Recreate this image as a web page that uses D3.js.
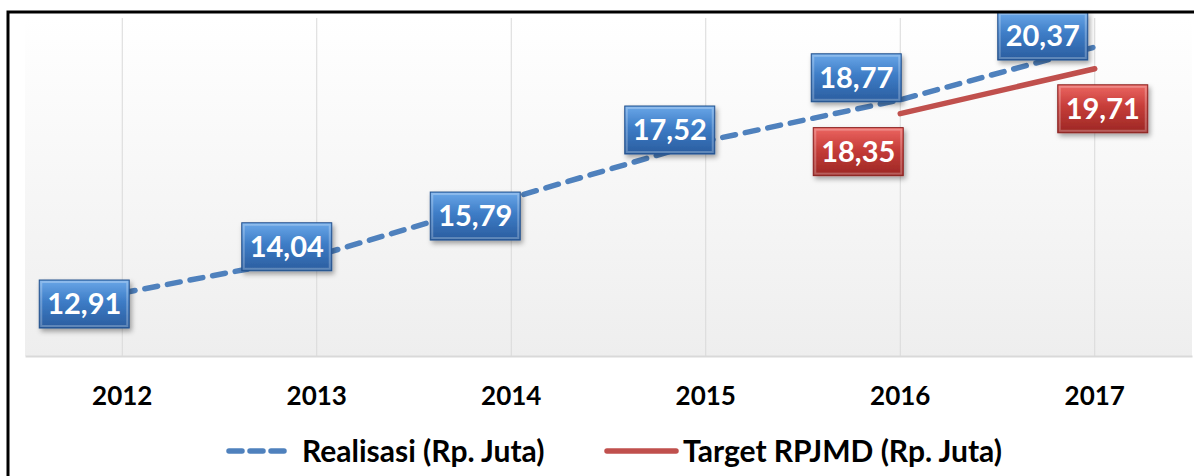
<!DOCTYPE html>
<html>
<head>
<meta charset="utf-8">
<script src="https://cdn.jsdelivr.net/npm/d3@7"></script>
<style>
  body { margin: 0; background: #fff; }
  svg { display: block; font-family: Lato, "Open Sans", sans-serif; }
</style>
</head>
<body>
<svg id="chart" width="1194" height="476"></svg>
<script>
// chart data
const years = ['2012', '2013', '2014', '2015', '2016', '2017'];
const realisasi = [12.91, 14.04, 15.79, 17.52, 18.77, 20.37];
const targetYears = ['2016', '2017'];
const target = [18.35, 19.71];
const seriesNames = ['Realisasi (Rp. Juta)', 'Target RPJMD (Rp. Juta)'];

// label box offsets from their point (box centre), as placed in the original
const realLabelOffsets = [[-38, 11], [-30, -9], [-36, 18], [-36, -11], [-44, -22], [-52, -11]];
const targetLabelOffsets = [[-42, 38], [8, 40]];

const svg = d3.select('#chart');
const margin = { top: 18, right: 2, bottom: 120, left: 25 };
const width = 1194 - margin.left - margin.right;
const height = 476 - margin.top - margin.bottom;

const fmt = v => v.toFixed(2).replace('.', ',');

const defs = svg.append('defs');

const bg = defs.append('linearGradient').attr('id', 'bg').attr('x1', 0).attr('y1', 0).attr('x2', 0).attr('y2', 1);
bg.append('stop').attr('offset', '0%').attr('stop-color', '#ffffff');
bg.append('stop').attr('offset', '100%').attr('stop-color', '#eeeeee');

function boxGradient(id, c0, c1, c2) {
  const g = defs.append('linearGradient').attr('id', id).attr('x1', 0).attr('y1', 0).attr('x2', 0).attr('y2', 1);
  g.append('stop').attr('offset', '0%').attr('stop-color', c0);
  g.append('stop').attr('offset', '45%').attr('stop-color', c1);
  g.append('stop').attr('offset', '100%').attr('stop-color', c2);
}
boxGradient('blueBox', '#6aa7e8', '#3d7cc6', '#2a5d9f');
boxGradient('redBox', '#ec6662', '#c63d39', '#9c2724');

const shadow = defs.append('filter').attr('id', 'shadow').attr('x', '-20%').attr('y', '-20%').attr('width', '150%').attr('height', '160%');
shadow.append('feDropShadow').attr('dx', 2).attr('dy', 3).attr('stdDeviation', 2.5)
  .attr('flood-color', '#000').attr('flood-opacity', 0.35);

const chart = svg.append('g').attr('transform', `translate(${margin.left},${margin.top})`);

const x = d3.scaleBand().domain(years).range([0, width]);
const y = d3.scaleLinear().domain([11, 21.25]).range([height, 0]);
const cx = d => x(d) + x.bandwidth() / 2;

// plot area background
chart.append('rect')
  .attr('width', width)
  .attr('height', height)
  .attr('fill', 'url(#bg)');

// vertical gridlines
chart.selectAll('.grid')
  .data(years)
  .join('line')
    .attr('class', 'grid')
    .attr('x1', cx).attr('x2', cx)
    .attr('y1', 0).attr('y2', height)
    .attr('stroke', '#d9d9d9')
    .attr('stroke-width', 1);

// x axis
const xAxisG = chart.append('g')
  .attr('transform', `translate(0,${height})`)
  .call(d3.axisBottom(x).tickSize(0).tickPadding(31));
xAxisG.select('.domain').attr('stroke', '#d9d9d9').attr('stroke-width', 2);
xAxisG.selectAll('text')
  .attr('fill', '#000')
  .style('font-size', '26px')
  .style('font-weight', 'bold')
  .style('font-family', 'Lato, sans-serif');

// lines
const realLine = d3.line().x((d, i) => cx(years[i])).y(d => y(d));
chart.append('path')
  .datum(realisasi)
  .attr('d', realLine)
  .attr('fill', 'none')
  .attr('stroke', '#4f81bd')
  .attr('stroke-width', 5.5)
  .attr('stroke-dasharray', '13 10')
  .attr('stroke-linecap', 'round');

const targetLine = d3.line().x((d, i) => cx(targetYears[i])).y(d => y(d));
chart.append('path')
  .datum(target)
  .attr('d', targetLine)
  .attr('fill', 'none')
  .attr('stroke', '#c0504d')
  .attr('stroke-width', 5.5)
  .attr('stroke-linecap', 'round');

// data label boxes
const boxW = 90, boxH = 48;
function drawLabels(cats, values, offsets, fillId, strokeCol) {
  const g = chart.append('g');
  const lab = g.selectAll('g')
    .data(values)
    .join('g')
      .attr('transform', (d, i) => `translate(${cx(cats[i]) + offsets[i][0]},${y(d) + offsets[i][1]})`);
  lab.append('rect')
    .attr('x', -boxW / 2).attr('y', -boxH / 2)
    .attr('width', boxW).attr('height', boxH)
    .attr('fill', `url(#${fillId})`)
    .attr('stroke', strokeCol)
    .attr('stroke-width', 1)
    .attr('filter', 'url(#shadow)');
  // bevel highlight
  lab.append('rect')
    .attr('x', -boxW / 2 + 2).attr('y', -boxH / 2 + 2)
    .attr('width', boxW - 4).attr('height', boxH - 4)
    .attr('fill', 'none')
    .attr('stroke', '#ffffff')
    .attr('stroke-opacity', 0.25)
    .attr('stroke-width', 2);
  lab.append('text')
    .attr('text-anchor', 'middle')
    .attr('dy', '0.36em')
    .attr('fill', '#fff')
    .style('font-size', '29px')
    .style('font-weight', 'bold')
    .text(d => fmt(d));
}
drawLabels(years, realisasi, realLabelOffsets, 'blueBox', '#24518c');
drawLabels(targetYears, target, targetLabelOffsets, 'redBox', '#8a2220');

// legend
const legend = svg.append('g').attr('transform', 'translate(0,451)');
legend.append('line')
  .attr('x1', 229).attr('x2', 284)
  .attr('stroke', '#4f81bd').attr('stroke-width', 5.5)
  .attr('stroke-dasharray', '13 8').attr('stroke-linecap', 'round');
legend.append('text')
  .attr('x', 302).attr('dy', '0.36em')
  .style('font-size', '30px').style('font-weight', 'bold')
  .text(seriesNames[0]);
legend.append('line')
  .attr('x1', 607).attr('x2', 676)
  .attr('stroke', '#c0504d').attr('stroke-width', 5.5)
  .attr('stroke-linecap', 'round');
legend.append('text')
  .attr('x', 683).attr('dy', '0.36em')
  .style('font-size', '30px').style('font-weight', 'bold')
  .text(seriesNames[1]);

// frame of the surrounding box
svg.append('path')
  .attr('d', 'M8,476 L8,12 L1194,12')
  .attr('fill', 'none')
  .attr('stroke', '#000')
  .attr('stroke-width', 3);
</script>
</body>
</html>
